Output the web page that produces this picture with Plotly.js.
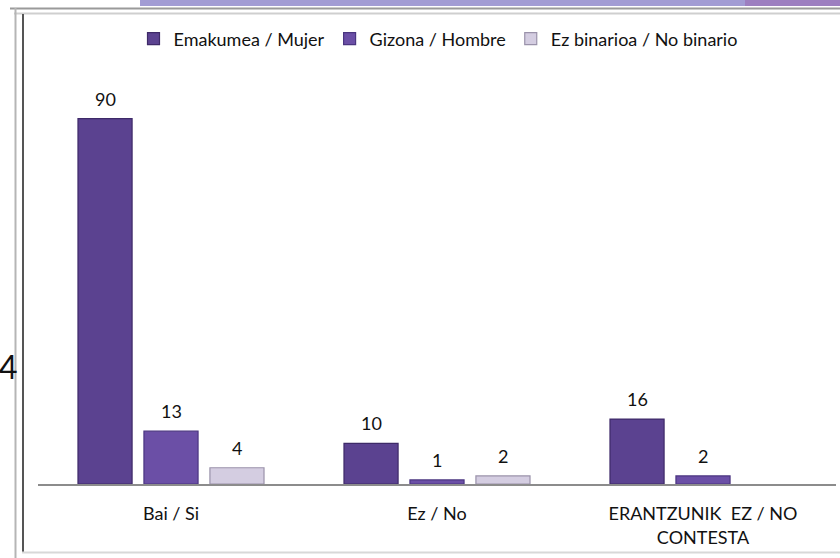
<!DOCTYPE html>
<html>
<head>
<meta charset="utf-8">
<script src="https://cdn.plot.ly/plotly-3.0.1.min.js"></script>
<style>html,body{margin:0;padding:0;background:#fff;}#chart{width:840px;height:558px;}</style>
</head>
<body>
<div id="chart"></div>
<script>
const categories = ["Bai / Si", "Ez / No", "ERANTZUNIK  EZ / NO<br>CONTESTA"];
const seriesNames = ["Emakumea / Mujer", "Gizona / Hombre", "Ez binarioa / No binario"];
const mujer = [90, 10, 16];
const hombre = [13, 1, 2];
const noBinario = [4, 2, null];

const W = 840, H = 558, L = 38, R = 4, T = 78, B = 74;
const pw = W - L - R, ph = H - T - B;
const px = x => (x - L) / pw;
const py = y => (H - B - y) / ph;

const FAM = "Lato, 'Open Sans', sans-serif";
const FS = 18;

function tr(name, vals, fill, line) {
  return {
    type: "bar", name: name, x: categories, y: vals,
    marker: {color: fill, line: {color: line, width: 1.2}},
    hoverinfo: "none"
  };
}

const series = [mujer, hombre, noBinario];
const data = [
  tr(seriesNames[0], mujer, "#5b4290", "#3e2a68"),
  tr(seriesNames[1], hombre, "#6b4fa6", "#4a3580"),
  tr(seriesNames[2], noBinario, "#d4cde1", "#9a92aa")
];

// value labels positioned through the category/value axes
const valueLabels = [];
const pitch = 66;
series.forEach((vals, i) => {
  vals.forEach((v, j) => {
    if (v == null) return;
    valueLabels.push({
      x: categories[j], y: v, xref: "x", yref: "y",
      xshift: (i - 1) * pitch, yshift: 7, yanchor: "bottom", xanchor: "center",
      text: String(v), showarrow: false,
      font: {family: FAM, size: FS, color: "#111"}
    });
  });
});

const shapes = [
  {type: "rect", xref: "paper", yref: "paper", x0: px(140), x1: px(745), y0: py(6), y1: py(0), fillcolor: "#a29cd4", line: {width: 0}},
  {type: "rect", xref: "paper", yref: "paper", x0: px(745), x1: px(840), y0: py(6), y1: py(0), fillcolor: "#9d7fc0", line: {width: 0}},
  {type: "line", xref: "paper", yref: "paper", x0: px(10), x1: px(840), y0: py(8.5), y1: py(8.5), line: {color: "#9a9a9a", width: 2}},
  {type: "line", xref: "paper", yref: "paper", x0: px(14), x1: px(840), y0: py(13.5), y1: py(13.5), line: {color: "#cfcfcf", width: 2}},
  {type: "line", xref: "paper", yref: "paper", x0: px(15.5), x1: px(15.5), y0: py(8), y1: py(558), line: {color: "#b5b5b5", width: 2}},
  {type: "line", xref: "paper", yref: "paper", x0: px(23), x1: px(23), y0: py(14), y1: py(552), line: {color: "#555555", width: 2}},
  {type: "line", xref: "paper", yref: "paper", x0: px(22), x1: px(840), y0: py(552.5), y1: py(552.5), line: {color: "#d8d8d8", width: 2}}
];

const layout = {
  width: W, height: H,
  margin: {l: L, r: R, t: T, b: B, pad: 0},
  paper_bgcolor: "#ffffff", plot_bgcolor: "#ffffff",
  font: {family: FAM, size: FS, color: "#111"},
  barmode: "group", bargap: 0.256, bargroupgap: 0.18,
  showlegend: true,
  legend: {orientation: "h", x: px(438), xanchor: "center", y: py(39), yanchor: "middle",
           font: {family: FAM, size: FS, color: "#111"}, itemwidth: 30, tracegroupgap: 0},
  xaxis: {showline: true, linecolor: "#8c8c8c", linewidth: 1.5, ticks: "outside", ticklen: 13,
          tickcolor: "rgba(0,0,0,0)", showgrid: false,
          tickfont: {family: FAM, size: FS, color: "#111"}, fixedrange: true},
  yaxis: {range: [0, 100], visible: false, showgrid: false, zeroline: false, fixedrange: true},
  shapes: shapes,
  annotations: valueLabels.concat([
    {xref: "paper", yref: "paper", x: px(-3), y: py(366), xanchor: "left", yanchor: "middle",
     text: "4", showarrow: false, font: {family: FAM, size: 32, color: "#111"}}
  ])
};

Plotly.newPlot("chart", data, layout, {displayModeBar: false, staticPlot: true});
</script>
</body>
</html>
